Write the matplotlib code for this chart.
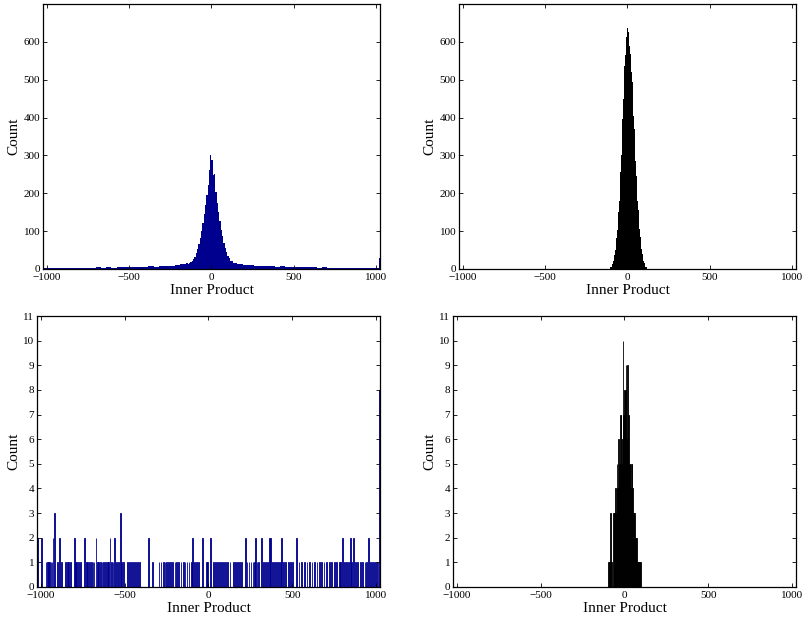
import numpy as np
import matplotlib
matplotlib.use("Agg")
import matplotlib.pyplot as plt

plt.rcParams['font.family'] = ['Liberation Serif', 'DejaVu Serif']

NAVY = '#00008f'

# ---- top left: wide distribution (blue) ----
tl_left_tail = [3, 2, 3, 2, 3, 2, 3, 3, 2, 3, 4, 3, 4, 3, 4, 4, 5, 4, 6, 5,
                7, 6, 8, 9, 8, 11, 13]
tl_center = [13, 16, 14, 17, 18, 22, 26, 31, 41, 52, 66, 82, 100, 122, 146, 170,
             196, 222, 262, 300,
             288, 248, 251, 204, 175, 150, 127, 103, 86, 70, 55, 44, 34, 28, 22,
             20, 17, 15, 16, 14]
tl_right_tail = [14, 11, 10, 9, 8, 8, 7, 6, 7, 5, 6, 5, 4, 5, 4, 3, 4, 3, 3, 2,
                 3, 3, 2, 3, 2, 3, 2]
tl_end_x = [-1022, 1022]
tl_end_counts = [7, 29]

# ---- top right: narrow distribution (black), bins of 4 from -120 ----
tr_counts = [0, 1, 1, 2, 4, 6, 9, 13, 20, 28, 38, 50, 65, 82, 102, 125, 150,
             180, 215, 255, 300, 345, 395, 450, 500, 535, 565, 590, 612, 630,
             637, 625, 610, 590, 568, 545, 520, 495, 445, 405, 370, 320, 285,
             245, 210, 180, 155, 128, 105, 85, 68, 52, 40, 30, 21, 15, 10, 6,
             4, 2]

# ---- bottom left: sparse (blue) ----
bl_x = [-1022, -996, -970, -962, -956, -948, -940, -934, -928, -918, -902, -888,
        -880, -852, -844, -836, -824, -802, -796, -786, -774, -764, -742, -730,
        -720, -710, -700, -690, -684, -672, -664, -656, -646, -636, -626, -616,
        -604, -596, -588, -580, -570, -560, -550, -538, -526, -518, -506, -482,
        -470, -458, -446, -436, -424, -410, -358, -332, -296, -284, -270, -260,
        -250, -238, -226, -214, -200, -190, -178, -164, -150, -140, -128, -116,
        -104, -96, -82, -70, -58, -34, -12, -4, 12, 28, 40, 52, 64, 78, 90, 102,
        114, 128, 148, 160, 172, 184, 198, 222, 230, 242, 254, 266, 276, 282,
        290, 300, 314, 330, 340, 352, 364, 372, 380, 392, 404, 418, 428, 438,
        450, 462, 476, 490, 504, 524, 540, 556, 572, 588, 604, 618, 634, 648,
        662, 676, 690, 706, 720, 736, 752, 766, 780, 790, 800, 810, 822, 834,
        846, 856, 868, 880, 892, 906, 920, 934, 944, 954, 966, 978, 990, 1002,
        1012, 1022]
bl_counts = [2, 2, 1, 1, 1, 1, 1, 1, 2, 3, 1, 2,
             1, 1, 1, 1, 1, 2, 1, 1, 1, 1, 2, 1,
             1, 1, 1, 1, 1, 2, 1, 1, 1, 1, 1, 1,
             1, 1, 2, 1, 1, 2, 1, 1, 3, 1, 1, 1,
             1, 1, 1, 1, 1, 1, 2, 1, 1, 1, 1, 1,
             1, 1, 1, 1, 1, 1, 1, 1, 1, 1, 1, 1,
             1, 2, 1, 1, 1, 2, 1, 1, 2, 1, 1, 1, 1, 1, 1, 1,
             1, 1, 1, 1, 1, 1, 1, 2, 1, 1, 1, 1, 1, 2,
             1, 1, 2, 1, 1, 1, 2, 2, 1, 1, 1, 1, 1, 2,
             1, 1, 1, 1, 1, 2, 1, 1, 1, 1, 1, 1, 1, 1,
             1, 1, 1, 1, 1, 1, 1, 1, 1, 1, 2, 1, 1, 1,
             2, 1, 2, 1, 1, 1, 1, 1, 1, 2, 1, 1, 1, 1,
             1, 8]

# ---- bottom right: narrow sparse (black) ----
br_x = [-94, -88, -82, -78, -64, -60, -56, -52, -48, -44, -40, -36, -32, -28,
        -24, -20, -16, -12, -8, -4, 0, 4, 8, 12, 16, 20, 24, 28, 32, 36, 40,
        44, 48, 52, 56, 60, 64, 68, 72, 76, 80, 84, 88, 94]
br_counts = [1, 1, 3, 1, 3, 3, 3, 4, 3, 5, 4, 6, 4, 5, 7, 7, 5, 6, 10, 7, 8, 8,
             9, 6, 9, 7, 7, 5, 5, 4, 5, 5, 4, 3, 3, 3, 2, 2, 2, 1, 1, 1, 1, 1]

W, H = 803, 623
fig = plt.figure(figsize=(W / 100, H / 100), dpi=100)


def make_ax(l, r, t, b):
    ax = fig.add_axes([l / W, (H - b) / H, (r - l) / W, (b - t) / H])
    ax.set_xlim(-1024, 1024)
    ax.set_xticks([-1000, -500, 0, 500, 1000])
    ax.tick_params(direction='in', top=True, right=True, length=3,
                   width=0.6, labelsize=8)
    ax.tick_params(axis='x', pad=3)
    ax.tick_params(axis='y', pad=2)
    for s in ax.spines.values():
        s.set_linewidth(0.9)
    ax.set_xlabel('Inner Product', fontsize=11, labelpad=1)
    ax.set_ylabel('Count', fontsize=11, labelpad=2)
    return ax


# top left
ax = make_ax(43, 380, 4, 269)
edges_l = np.arange(-1024, -159, 32)
edges_c = np.arange(-160, 161, 8)
edges_r = np.arange(160, 1025, 32)
ax.stairs(tl_left_tail, edges_l, fill=True, color=NAVY, lw=0)
ax.stairs(tl_center, edges_c, fill=True, color=NAVY, lw=0)
ax.stairs(tl_right_tail, edges_r, fill=True, color=NAVY, lw=0)
ax.bar(tl_end_x, tl_end_counts, width=4, color=NAVY, lw=0)
ax.set_ylim(0, 700)
ax.set_yticks(range(0, 601, 100))

# top right
ax = make_ax(459, 796, 4, 269)
edges_tr = np.arange(-120, 121, 4)
ax.stairs(tr_counts, edges_tr, fill=True, color='k', lw=0)
ax.set_ylim(0, 700)
ax.set_yticks(range(0, 601, 100))

# bottom left
ax = make_ax(37, 380, 316, 587)
ax.bar(bl_x, bl_counts, width=5, color=NAVY, edgecolor=NAVY, lw=0.6)
ax.set_ylim(0, 11)
ax.set_yticks(range(0, 12))

# bottom right
ax = make_ax(453, 796, 316, 587)
ax.bar(br_x, br_counts, width=4, color='k', edgecolor='k', lw=0.6)
ax.set_ylim(0, 11)
ax.set_yticks(range(0, 12))

fig.savefig('out.png', dpi=100)
